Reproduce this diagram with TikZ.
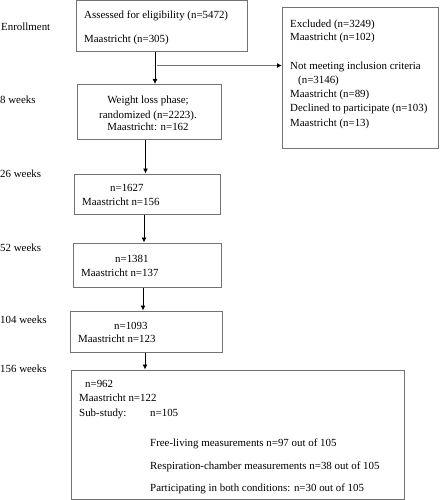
\documentclass[tikz,border=0pt]{standalone}
\usepackage{fontspec}
\setmainfont{Liberation Serif}
\usetikzlibrary{arrows.meta,calc}
\begin{document}
\begin{tikzpicture}[x=1pt,y=-1pt,
  box/.style={draw=black!55,line width=1pt,inner sep=0pt},
  txt/.style={anchor=base west,inner sep=0pt,font=\fontsize{10.9}{12}\selectfont},
  ctxt/.style={anchor=base,inner sep=0pt,font=\fontsize{10.9}{12}\selectfont},
  arr/.style={draw=black,line width=0.8pt,-{Latex[length=5pt,width=5pt]}},
  garr/.style={draw=black!55,line width=1pt,-{Latex[length=5pt,width=5pt,black]},shorten >=-0.5pt}]
\useasboundingbox (0,0) rectangle (439,500);
% boxes
\node[box,minimum width=171,minimum height=51] (b1) at (161.5,26.5) {};
\node[box,minimum width=144,minimum height=55] (b2) at (149,112) {};
\node[box,minimum width=156,minimum height=140] (ex) at (360,78) {};
\node[box,minimum width=146,minimum height=40] (b3) at (147,194) {};
\node[box,minimum width=148,minimum height=44] (b4) at (147,265) {};
\node[box,minimum width=152,minimum height=41] (b5) at (146,331.5) {};
\node[box,minimum width=333,minimum height=129] (b6) at (237.5,434.5) {};
% left labels
\node[txt] (l1) at (1,31) {Enrollment};
\node[txt] (l2) at (0,104) {8 weeks};
\node[txt] (l3) at (0,177) {26 weeks};
\node[txt] (l4) at (0,251) {52 weeks};
\node[txt] (l5) at (0,323) {104 weeks};
\node[txt] (l6) at (0,372) {156 weeks};
% box 1
\node[txt] (t11) at (84,19) {Assessed for eligibility (n=5472)};
\node[txt] (t12) at (84,43) {Maastricht (n=305)};
% box 2
\node[ctxt] (t21) at (148,104) {Weight loss phase;};
\node[ctxt] (t22) at (148,118) {randomized (n=2223).};
\node[ctxt] (t23) at (148,131) {Maastricht: n=162};
% excluded
\node[txt] (e1) at (290,28) {Excluded (n=3249)};
\node[txt] (e2) at (290,41) {Maastricht (n=102)};
\node[txt] (e3) at (290,70) {Not meeting inclusion criteria};
\node[txt] (e4) at (298,84) {(n=3146)};
\node[txt] (e5) at (290,98) {Maastricht (n=89)};
\node[txt] (e6) at (290,112) {Declined to participate (n=103)};
\node[txt] (e7) at (290,126) {Maastricht (n=13)};
% box 3-5
\node[txt] (t31) at (110,191) {n=1627};
\node[txt] (t32) at (82,205) {Maastricht n=156};
\node[txt] (t41) at (115,262) {n=1381};
\node[txt] (t42) at (81,276) {Maastricht n=137};
\node[txt] (t51) at (114,329) {n=1093};
\node[txt] (t52) at (78,342) {Maastricht n=123};
% box 6
\node[txt] (t61) at (85,387) {n=962};
\node[txt] (t62) at (79,401) {Maastricht n=122};
\node[txt] (t63) at (79,416) {Sub-study:};
\node[txt] (t64) at (150,416) {n=105};
\node[txt] (t65) at (150,446) {Free-living measurements n=97 out of 105};
\node[txt] (t66) at (150,469) {Respiration-chamber measurements n=38 out of 105};
\node[txt] (t67) at (150,491) {Participating in both conditions: n=30 out of 105};
% connectors
\coordinate (x1) at (155,0);
\coordinate (x2) at (145.5,0);
\coordinate (x3) at (144,0);
\coordinate (x4) at (143,0);
\coordinate (x5) at (145,0);
\coordinate (jn) at (157,65.5);
\draw[arr] (b1.south -| x1) -- (b2.north -| x1);
\draw[garr] (jn) -- (jn -| ex.west);
\draw[arr] (b2.south -| x2) -- (b3.north -| x2);
\draw[arr] (b3.south -| x3) -- (b4.north -| x3);
\draw[arr] (b4.south -| x4) -- (b5.north -| x4);
\draw[arr] (b5.south -| x5) -- (b6.north -| x5);
\end{tikzpicture}
\end{document}
